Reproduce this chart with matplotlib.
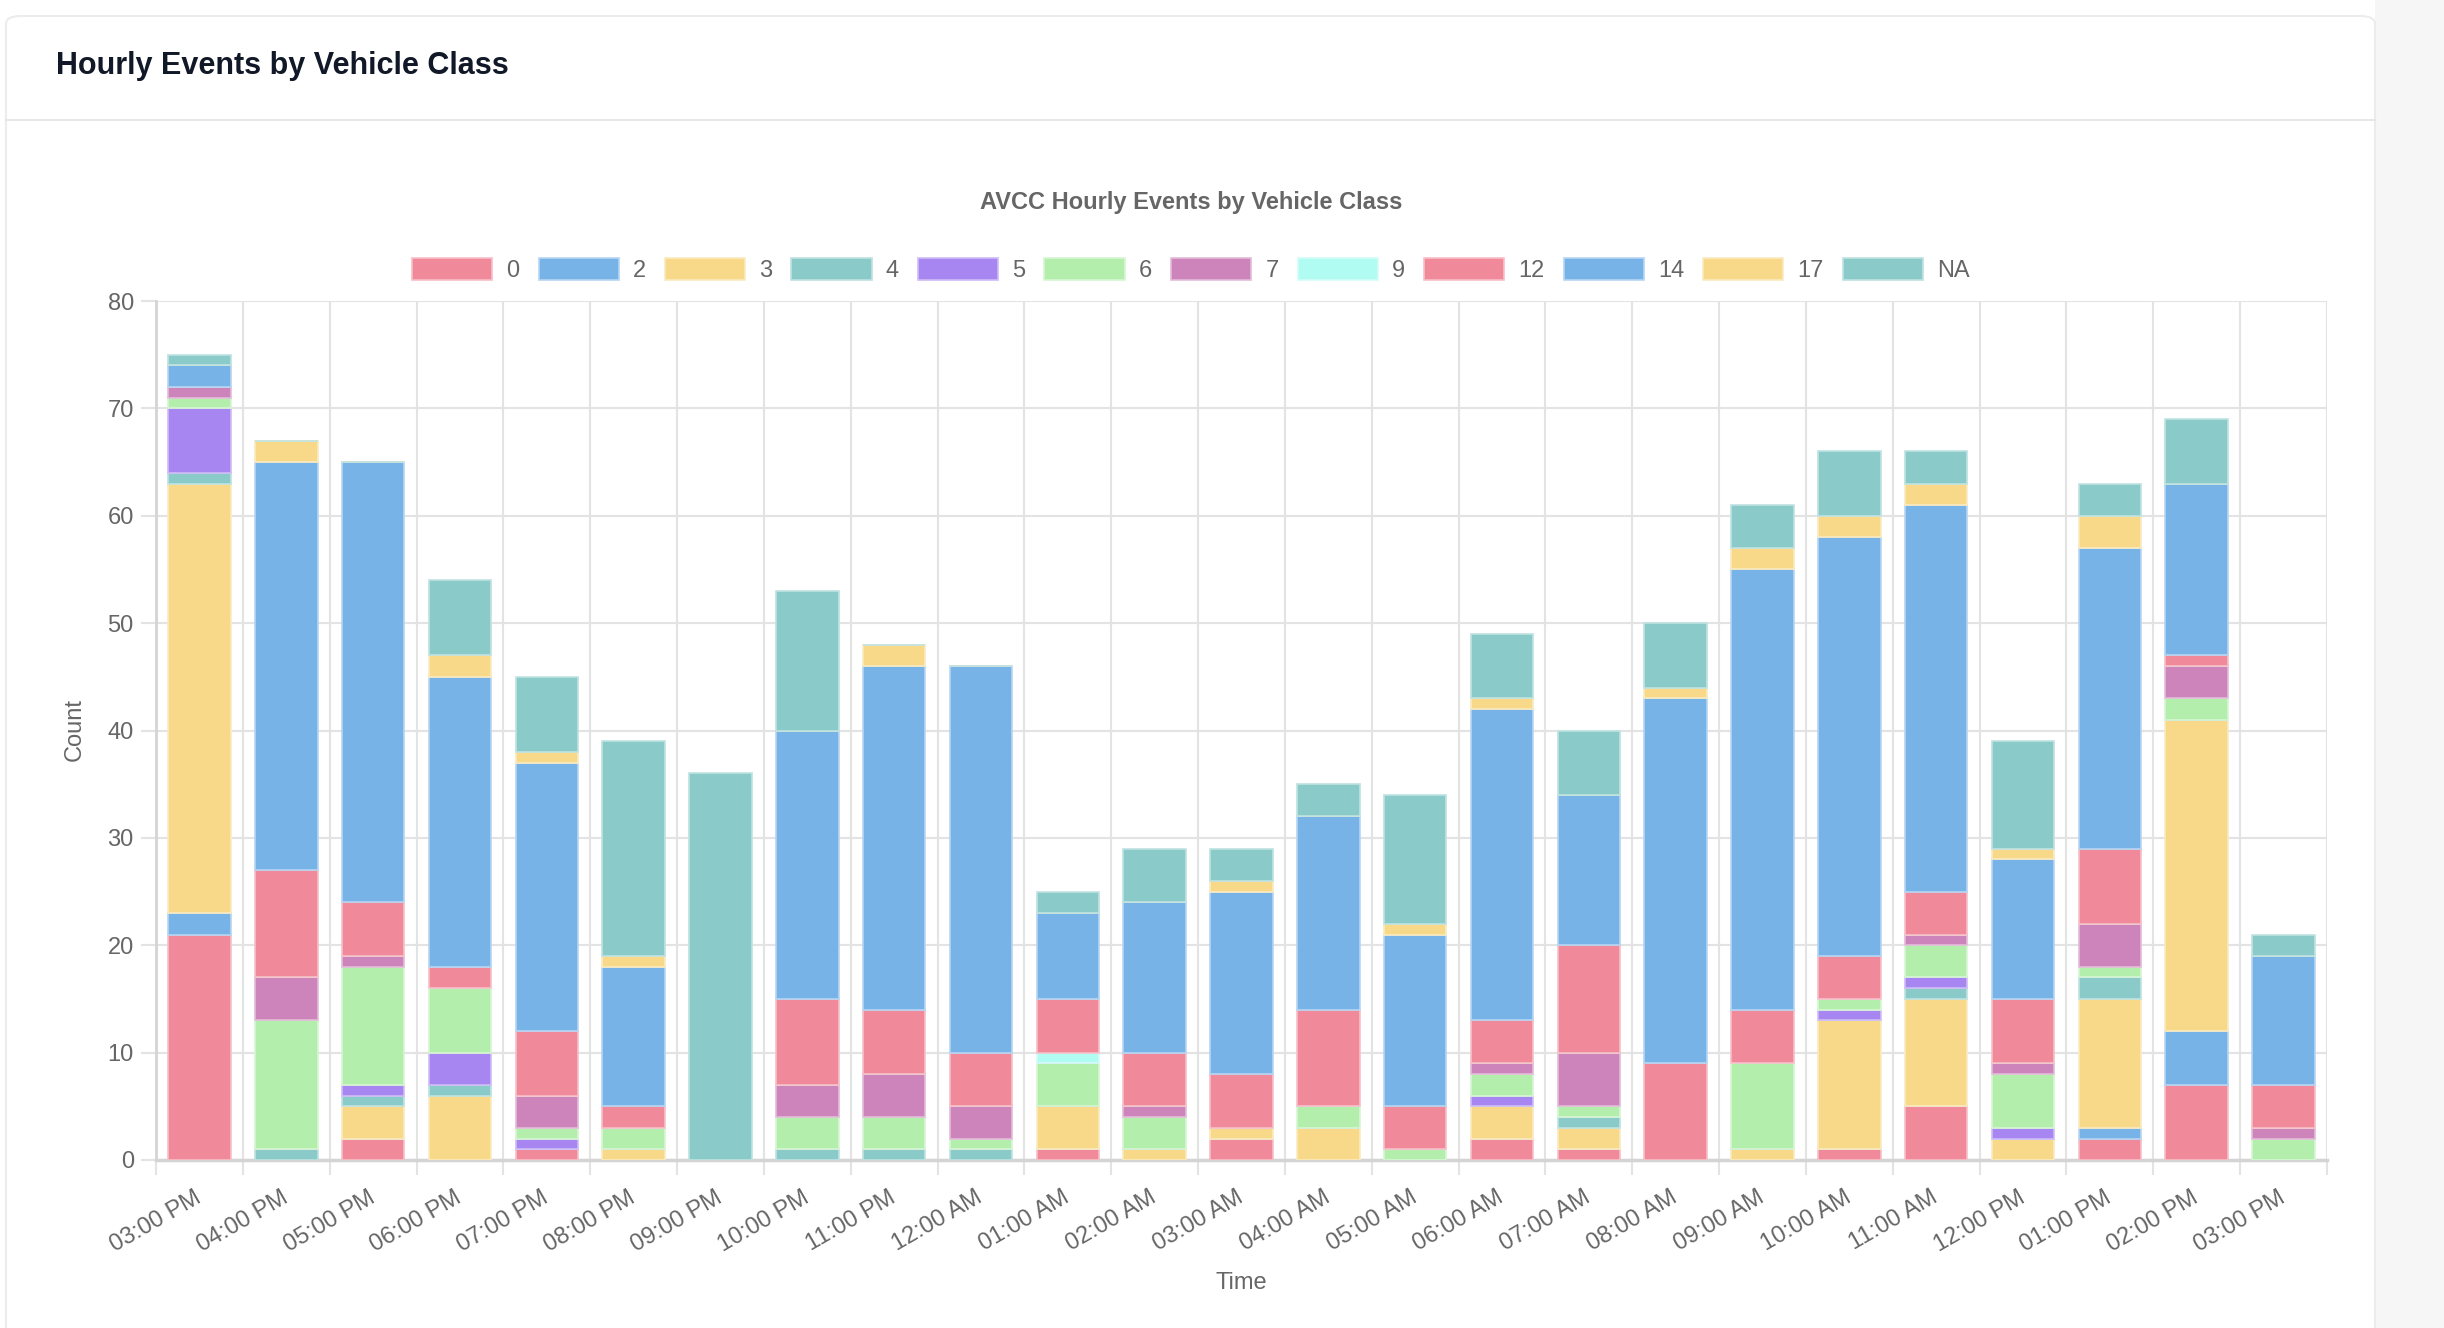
import numpy as np
import matplotlib.pyplot as plt
from matplotlib.patches import Patch, Rectangle, FancyBboxPatch
from matplotlib.colors import to_rgb

# ========== data ==========
hours = ["03:00 PM", "04:00 PM", "05:00 PM", "06:00 PM", "07:00 PM", "08:00 PM",
         "09:00 PM", "10:00 PM", "11:00 PM", "12:00 AM", "01:00 AM", "02:00 AM",
         "03:00 AM", "04:00 AM", "05:00 AM", "06:00 AM", "07:00 AM", "08:00 AM",
         "09:00 AM", "10:00 AM", "11:00 AM", "12:00 PM", "01:00 PM", "02:00 PM",
         "03:00 PM"]

class_0 = [21, 0, 2, 0, 1, 0, 0, 0, 0, 0, 1, 0, 2, 0, 0, 2, 1, 0, 0, 1, 5, 0, 2, 7, 0]
class_2 = [2, 0, 0, 0, 0, 0, 0, 0, 0, 0, 0, 0, 0, 0, 0, 0, 0, 0, 0, 0, 0, 0, 1, 5, 0]
class_3 = [40, 0, 3, 6, 0, 1, 0, 0, 0, 0, 4, 1, 1, 3, 0, 3, 2, 0, 1, 12, 10, 2, 12, 29, 0]
class_4 = [1, 1, 1, 1, 0, 0, 0, 1, 1, 1, 0, 0, 0, 0, 0, 0, 1, 0, 0, 0, 1, 0, 2, 0, 0]
class_5 = [6, 0, 1, 3, 1, 0, 0, 0, 0, 0, 0, 0, 0, 0, 0, 1, 0, 0, 0, 1, 1, 1, 0, 0, 0]
class_6 = [1, 12, 11, 6, 1, 2, 0, 3, 3, 1, 4, 3, 0, 2, 1, 2, 1, 0, 8, 1, 3, 5, 1, 2, 2]
class_7 = [1, 4, 1, 0, 3, 0, 0, 3, 4, 3, 0, 1, 0, 0, 0, 1, 5, 0, 0, 0, 1, 1, 4, 3, 1]
class_9 = [0, 0, 0, 0, 0, 0, 0, 0, 0, 0, 1, 0, 0, 0, 0, 0, 0, 0, 0, 0, 0, 0, 0, 0, 0]
class_12 = [0, 10, 5, 2, 6, 2, 0, 8, 6, 5, 5, 5, 5, 9, 4, 4, 10, 9, 5, 4, 4, 6, 7, 1, 4]
class_14 = [2, 38, 41, 27, 25, 13, 0, 25, 32, 36, 8, 14, 17, 18, 16, 29, 14, 34, 41, 39, 36, 13, 28, 16, 12]
class_17 = [0, 2, 0, 2, 1, 1, 0, 0, 2, 0, 0, 0, 1, 0, 1, 1, 0, 1, 2, 2, 2, 1, 3, 0, 0]
class_na = [1, 0, 0, 7, 7, 20, 36, 13, 0, 0, 2, 5, 3, 3, 12, 6, 6, 6, 4, 6, 3, 10, 3, 6, 2]

labels = ["0", "2", "3", "4", "5", "6", "7", "9", "12", "14", "17", "NA"]
series = [class_0, class_2, class_3, class_4, class_5, class_6, class_7, class_9,
          class_12, class_14, class_17, class_na]

# chart.js style pastel palette (repeats after 8 colours)
PINK, BLUE, YELLOW, TEAL = "#f08a9b", "#78b3e8", "#f8d98a", "#8acbca"
PURPLE, GREEN, MAGENTA, CYAN = "#a886f2", "#b4eead", "#cc84ba", "#b0fcf2"
colors = [PINK, BLUE, YELLOW, TEAL, PURPLE, GREEN, MAGENTA, CYAN, PINK, BLUE, YELLOW, TEAL]


def lighter(c, k=0.45):
    r, g, b = to_rgb(c)
    return (r + (1 - r) * k, g + (1 - g) * k, b + (1 - b) * k)


plt.rcParams["font.family"] = ["Liberation Sans", "DejaVu Sans"]
TXT = "#666666"
GRID = "#e3e3e3"

# ========== figure / card ==========
W, H = 2444, 1328
fig = plt.figure(figsize=(W / 100, H / 100), dpi=100)
fig.patch.set_facecolor("white")

# page strip on the right, card outline and header separator
fig.patches.append(Rectangle((2375 / W, 0), 1 - 2375 / W, 1, transform=fig.transFigure,
                             facecolor="#f6f6f7", edgecolor="none", zorder=-2))
fig.patches.append(FancyBboxPatch((6 / W, -0.05), (2375 - 6) / W, 1 - 16 / H + 0.05,
                                  boxstyle="round,pad=0,rounding_size=0.006",
                                  transform=fig.transFigure, facecolor="white",
                                  edgecolor="#ececec", lw=1.5, zorder=-1))
fig.lines.append(plt.Line2D([6 / W, 2375 / W], [1 - 120 / H, 1 - 120 / H],
                            transform=fig.transFigure, color="#e5e7eb", lw=1.5))

fig.text(56 / W, 1 - 66 / H, "Hourly Events by Vehicle Class", fontsize=22,
         fontweight="bold", color="#111827", va="center", ha="left")
fig.text(1191 / W, 1 - 203 / H, "AVCC Hourly Events by Vehicle Class", fontsize=17,
         fontweight="bold", color=TXT, va="center", ha="center")

# ========== axes ==========
left, right, top, bottom = 156, 2327, 301, 1160
ax = fig.add_axes([left / W, 1 - bottom / H, (right - left) / W, (bottom - top) / H])
ax.set_zorder(2)
ax.patch.set_alpha(0)

x = np.arange(len(hours))
base = np.zeros(len(hours))
for lab, vals, col in zip(labels, series, colors):
    vals = np.array(vals, dtype=float)
    ax.bar(x, vals, width=0.72, bottom=base, color=col, edgecolor=lighter(col),
           linewidth=1.2, label=lab, zorder=3)
    base += vals

ax.set_xlim(-0.5, len(hours) - 0.5)
ax.set_ylim(0, 80)
ax.set_yticks(np.arange(0, 81, 10))
ax.set_xticks(x)
ax.set_xticklabels(hours, rotation=30, ha="right", va="center", rotation_mode="anchor")
ax.set_xticks(np.arange(-0.5, len(hours), 1), minor=True)

ax.tick_params(axis="x", which="major", length=0, pad=26, labelsize=17, labelcolor=TXT)
ax.tick_params(axis="x", which="minor", length=11, width=1.5, color=GRID)
ax.tick_params(axis="y", length=11, width=1.5, color=GRID, pad=5, labelsize=17, labelcolor=TXT)

ax.grid(axis="y", color=GRID, lw=1.5, zorder=0)
ax.grid(axis="x", which="minor", color=GRID, lw=1.5, zorder=0)
ax.set_axisbelow(True)
for s in ["top", "right"]:
    ax.spines[s].set_visible(False)
ax.spines["left"].set_color("#d4d4d4")
ax.spines["bottom"].set_color("#d4d4d4")
ax.spines["left"].set_linewidth(2)
ax.spines["bottom"].set_linewidth(2.5)

fig.text(75 / W, 1 - 730 / H, "Count", rotation=90, fontsize=17, color=TXT,
         ha="center", va="center")
fig.text(1241 / W, 1 - 1283 / H, "Time", fontsize=17, color=TXT, ha="center", va="center")

# ========== legend ==========
handles = [Patch(facecolor=c, edgecolor=lighter(c), lw=1.2) for c in colors]
fig.legend(handles, labels, loc="center", bbox_to_anchor=(1191 / W, 1 - 270 / H),
           ncol=12, frameon=False, fontsize=17, labelcolor=TXT,
           handlelength=3.4, handleheight=1.1, handletextpad=0.6, columnspacing=0.8)

fig.savefig("out.png", dpi=100)
